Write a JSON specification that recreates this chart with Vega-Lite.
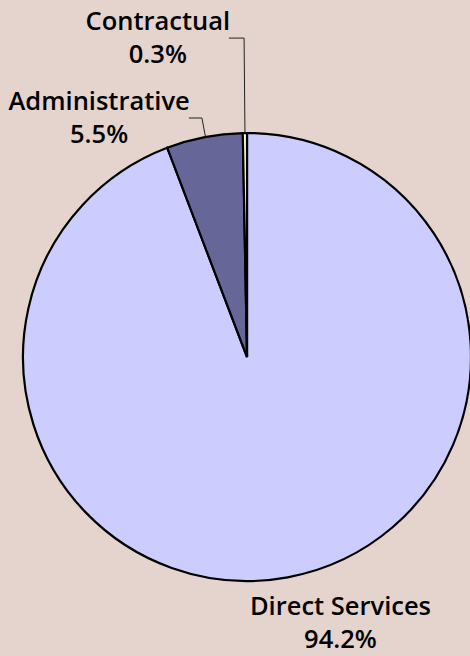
{
  "$schema": "https://vega.github.io/schema/vega-lite/v6.json",
  "width": 470,
  "height": 656,
  "autosize": {"type": "fit", "contains": "padding"},
  "padding": 0,
  "background": "#e5d4cd",
  "config": {"view": {"stroke": null}},
  "data": {
    "values": [
      {"category": "Direct Services", "share": 0.942, "order": 1},
      {"category": "Administrative", "share": 0.055, "order": 2},
      {"category": "Contractual", "share": 0.003, "order": 3}
    ]
  },
  "transform": [
    {"stack": "share", "groupby": [], "sort": [{"field": "order"}], "as": ["s0", "s1"]},
    {"calculate": "PI*(datum.s0+datum.s1)", "as": "ang"},
    {"calculate": "100*sin(datum.ang)", "as": "ex"},
    {"calculate": "100*cos(datum.ang)", "as": "ey"},
    {"calculate": "datum.category==='Contractual' ? 142.4 : datum.category==='Administrative' ? 108.7 : 0", "as": "lr"},
    {"calculate": "datum.lr*sin(datum.ang)", "as": "lx"},
    {"calculate": "datum.lr*cos(datum.ang)", "as": "ly"},
    {"calculate": "datum.lx - (datum.category==='Contractual' ? 7 : 6)", "as": "tx"},
    {"calculate": "datum.category==='Direct Services' ? 42.9 : datum.tx - (datum.category==='Contractual' ? 32.6 : 41.2)", "as": "labx"},
    {"calculate": "datum.category==='Direct Services' ? -118.75 : datum.ly", "as": "laby"}
  ],
  "layer": [
    {
      "mark": {"type": "arc", "outerRadius": 224, "stroke": "#000000", "strokeWidth": 2.2},
      "encoding": {
        "x": {"datum": 0, "type": "quantitative", "scale": {"domain": [-113.4, 96.4], "nice": false, "zero": false}, "axis": null},
        "y": {"datum": 0, "type": "quantitative", "scale": {"domain": [-133.5, 159.4], "nice": false, "zero": false}, "axis": null},
        "theta": {"field": "s0", "type": "quantitative", "scale": {"domain": [0, 1]}},
        "theta2": {"field": "s1"},
        "color": {
          "field": "category",
          "type": "nominal",
          "scale": {"domain": ["Direct Services", "Administrative", "Contractual"], "range": ["#ccccff", "#666699", "#ffffcc"]},
          "legend": null
        }
      }
    },
    {
      "transform": [{"filter": "datum.lr > 0"}],
      "mark": {"type": "rule", "color": "#222222", "strokeWidth": 1},
      "encoding": {
        "x": {"field": "ex", "type": "quantitative", "scale": {"domain": [-113.4, 96.4], "nice": false, "zero": false}, "axis": null},
        "y": {"field": "ey", "type": "quantitative", "scale": {"domain": [-133.5, 159.4], "nice": false, "zero": false}, "axis": null},
        "x2": {"field": "lx"},
        "y2": {"field": "ly"}
      }
    },
    {
      "transform": [{"filter": "datum.lr > 0"}],
      "mark": {"type": "rule", "color": "#222222", "strokeWidth": 1},
      "encoding": {
        "x": {"field": "lx", "type": "quantitative", "scale": {"domain": [-113.4, 96.4], "nice": false, "zero": false}, "axis": null},
        "y": {"field": "ly", "type": "quantitative", "scale": {"domain": [-133.5, 159.4], "nice": false, "zero": false}, "axis": null},
        "x2": {"field": "tx"}
      }
    },
    {
      "mark": {"type": "text", "font": "Open Sans", "fontSize": 25.5, "fontWeight": 600, "color": "#000000", "align": "center", "baseline": "alphabetic", "dy": -8},
      "encoding": {
        "x": {"field": "labx", "type": "quantitative", "scale": {"domain": [-113.4, 96.4], "nice": false, "zero": false}, "axis": null},
        "y": {"field": "laby", "type": "quantitative", "scale": {"domain": [-133.5, 159.4], "nice": false, "zero": false}, "axis": null},
        "text": {"field": "category", "type": "nominal"}
      }
    },
    {
      "mark": {"type": "text", "font": "Open Sans", "fontSize": 25.5, "fontWeight": 600, "color": "#000000", "align": "center", "baseline": "alphabetic", "dy": 25},
      "encoding": {
        "x": {"field": "labx", "type": "quantitative", "scale": {"domain": [-113.4, 96.4], "nice": false, "zero": false}, "axis": null},
        "y": {"field": "laby", "type": "quantitative", "scale": {"domain": [-133.5, 159.4], "nice": false, "zero": false}, "axis": null},
        "text": {"field": "share", "type": "quantitative", "format": ".1%"}
      }
    }
  ]
}
